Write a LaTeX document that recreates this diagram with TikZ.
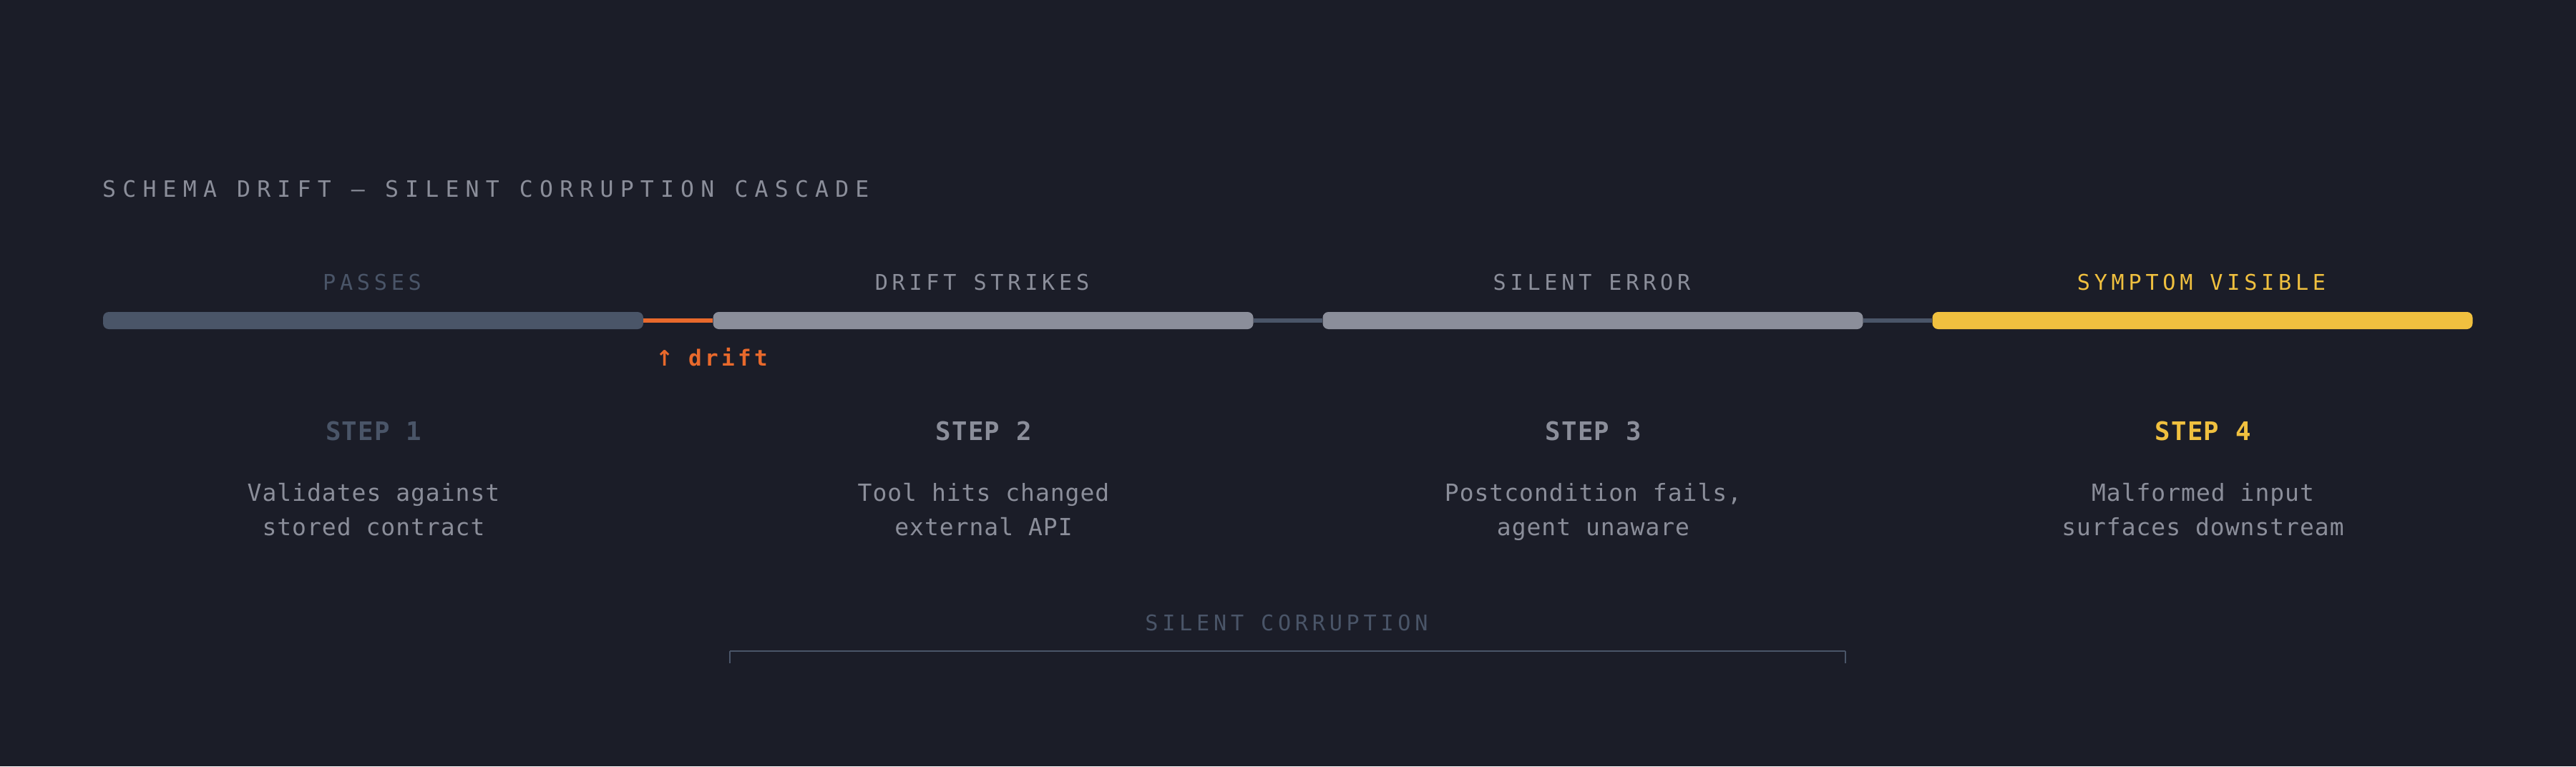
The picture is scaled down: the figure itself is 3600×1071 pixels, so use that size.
\documentclass[tikz,border=0pt]{standalone}
\usepackage{fontspec}
\setmonofont{DejaVu Sans Mono}
\newfontfamily\titlefont[LetterSpace=29.2]{DejaVu Sans Mono}
\newfontfamily\labelfont[LetterSpace=19]{DejaVu Sans Mono}
\newfontfamily\stepfont[LetterSpace=3.4]{DejaVu Sans Mono}
\newfontfamily\descfont[LetterSpace=3]{DejaVu Sans Mono}
\newfontfamily\driftfont[LetterSpace=14]{DejaVu Sans Mono}
\newfontfamily\arrowfont{DejaVu Sans}
\definecolor{bg}{HTML}{1B1D28}
\definecolor{slate}{HTML}{4A5568}
\definecolor{greyc}{HTML}{8B8E9A}
\definecolor{yell}{HTML}{F0C03F}
\definecolor{orng}{HTML}{E8692C}
\tikzset{
  bar/.style={rectangle, rounded corners=8pt, minimum width=755pt, minimum height=24pt, inner sep=0pt, draw=none},
  conn/.style={line width=5.5pt},
  ttl/.style={anchor=base west, inner sep=0pt, text=greyc, font=\titlefont\fontsize{31.5}{36}\selectfont},
  lbl/.style={anchor=base, inner sep=0pt, xshift=-1.5pt, font=\labelfont\fontsize{30.2}{36}\selectfont},
  steplbl/.style={anchor=base, inner sep=0pt, xshift=0.6pt, font=\stepfont\bfseries\fontsize{35.7}{40}\selectfont},
  desc/.style={anchor=base, inner sep=0pt, xshift=0.5pt, text=greyc, font=\descfont\fontsize{33}{40}\selectfont},
  drift/.style={anchor=base west, inner sep=0pt, text=orng, font=\driftfont\bfseries\fontsize{31}{36}\selectfont},
}
\begin{document}
\begin{tikzpicture}[x=1pt,y=-1pt]
\fill[bg] (0,0) rectangle (3600,1071);
\useasboundingbox (0,0) rectangle (3600,1071);

\node[ttl] (title) at (143,275) {SCHEMA DRIFT — SILENT CORRUPTION CASCADE};

% bars
\node[bar, fill=slate] (b1) at (521.5,448) {};
\node[bar, fill=greyc] (b2) at (1374,448) {};
\node[bar, fill=greyc] (b3) at (2226,448) {};
\node[bar, fill=yell]  (b4) at (3078,448) {};

\draw[conn, orng]  (b1.east) -- (b2.west);
\draw[conn, slate] (b2.east) -- (b3.west);
\draw[conn, slate] (b3.east) -- (b4.west);

% labels above bars
\node[lbl, text=slate] (l1) at (521.5,405) {PASSES};
\node[lbl, text=greyc] (l2) at (1374,405) {DRIFT STRIKES};
\node[lbl, text=greyc] (l3) at (2226,405) {SILENT ERROR};
\node[lbl, text=yell]  (l4) at (3078,405) {SYMPTOM VISIBLE};

\node[drift] (dr) at (912,511) {\makebox[50pt][l]{\hspace{4pt}{\arrowfont\fontsize{30}{36}\selectfont ↑}}drift};

% steps
\node[steplbl, text=slate] (s1) at (521.5,615) {STEP 1};
\node[steplbl, text=greyc] (s2) at (1374,615) {STEP 2};
\node[steplbl, text=greyc] (s3) at (2226,615) {STEP 3};
\node[steplbl, text=yell]  (s4) at (3078,615) {STEP 4};

\node[desc] (d1a) at (521.5,700) {Validates against};
\node[desc] (d1b) at (521.5,748) {stored contract};
\node[desc] (d2a) at (1374,700) {Tool hits changed};
\node[desc] (d2b) at (1374,748) {external API};
\node[desc] (d3a) at (2226,700) {Postcondition fails,};
\node[desc] (d3b) at (2226,748) {agent unaware};
\node[desc] (d4a) at (3078,700) {Malformed input};
\node[desc] (d4b) at (3078,748) {surfaces downstream};

% silent corruption bracket
\node[lbl, text=slate] (sc) at (1799.5,881) {SILENT CORRUPTION};
\coordinate (brl) at (1020,910);
\coordinate (brr) at (2579,910);
\coordinate (brlt) at (1020,927);
\coordinate (brrt) at (2579,927);
\draw[slate, line width=2.5pt] (brl) -- (brr);
\draw[slate, line width=1.5pt] (brl) -- (brlt);
\draw[slate, line width=1.5pt] (brr) -- (brrt);
\end{tikzpicture}
\end{document}
